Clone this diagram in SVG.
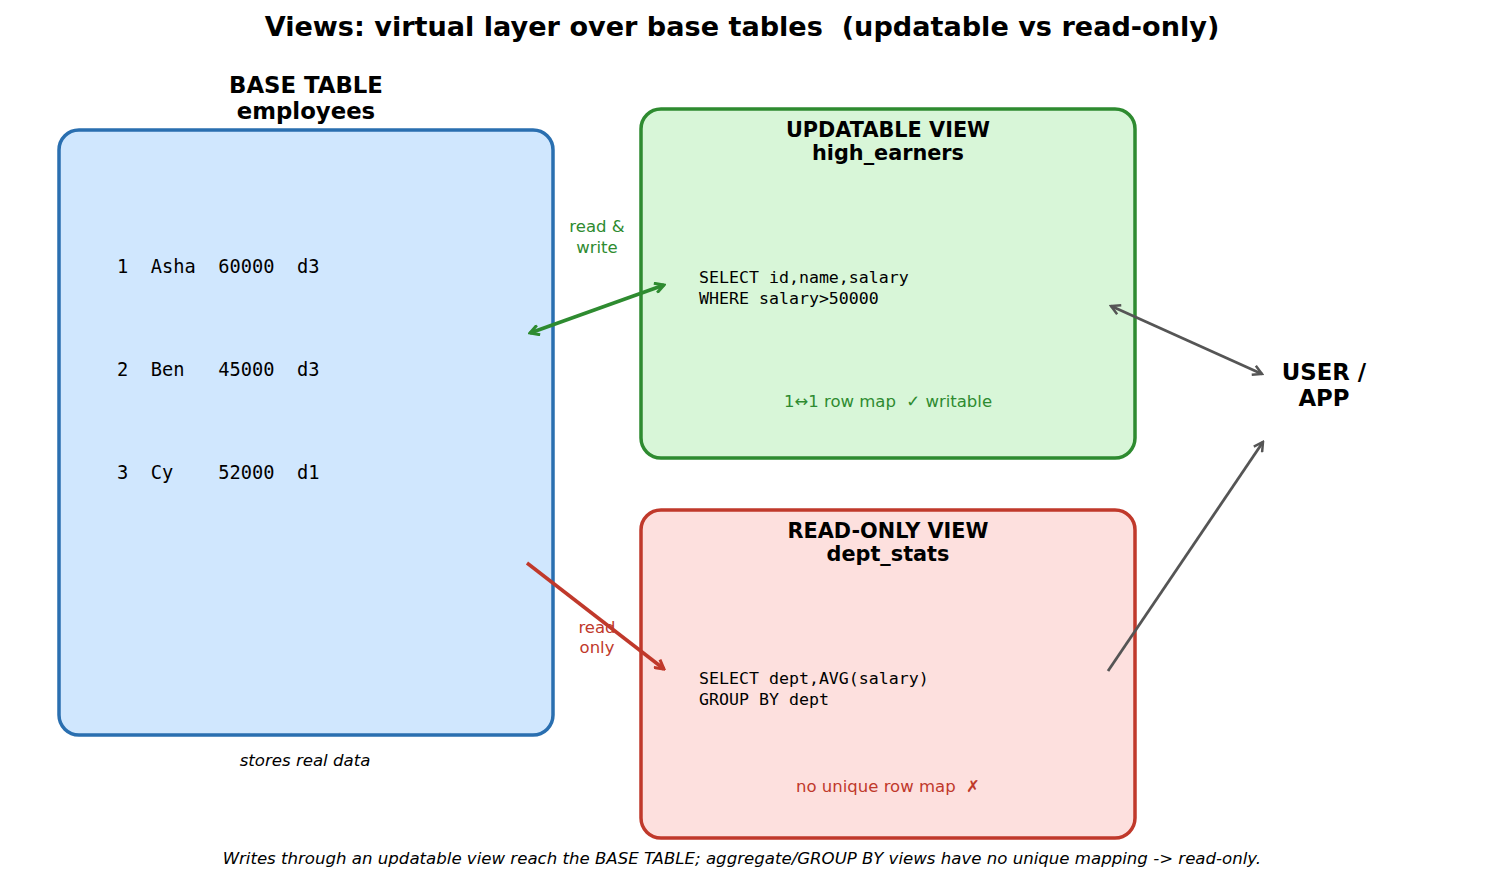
<svg xmlns="http://www.w3.org/2000/svg" width="1485" height="884" viewBox="0 0 1485 884">
<style>
text{font-family:"DejaVu Sans","Liberation Sans",sans-serif;}
.title{font-size:27.1px;font-weight:bold;text-anchor:middle;fill:#000;}
.hdr{font-size:22.8px;font-weight:bold;text-anchor:middle;fill:#000;}
.vhdr{font-size:20.8px;font-weight:bold;text-anchor:middle;fill:#000;}
.mono{font-family:"DejaVu Sans Mono","Liberation Mono",monospace;font-size:16.6px;fill:#000;}
.row{font-family:"DejaVu Sans Mono","Liberation Mono",monospace;font-size:18.7px;fill:#000;}
.note{font-size:16.5px;text-anchor:middle;}
.it{font-size:16.6px;font-style:italic;text-anchor:middle;fill:#000;}
.box{stroke-width:3.5;}
</style>
<defs>
<marker id="hg" markerWidth="12" markerHeight="12" refX="10" refY="6" orient="auto-start-reverse" markerUnits="userSpaceOnUse"><path d="M1,1 L10,6 L1,11" fill="none" stroke="#2e8b30" stroke-width="3"/></marker>
<marker id="hr" markerWidth="12" markerHeight="12" refX="10" refY="6" orient="auto-start-reverse" markerUnits="userSpaceOnUse"><path d="M1,1 L10,6 L1,11" fill="none" stroke="#c0392b" stroke-width="3"/></marker>
<marker id="hk" markerWidth="12" markerHeight="12" refX="10" refY="6" orient="auto-start-reverse" markerUnits="userSpaceOnUse"><path d="M1,1 L10,6 L1,11" fill="none" stroke="#555555" stroke-width="2.5"/></marker>
</defs>
<rect width="1485" height="884" fill="#fff"/>
<text class="title" x="742" y="36" xml:space="preserve">Views: virtual layer over base tables  (updatable vs read-only)</text>

<g id="base">
<rect class="box" x="59" y="130" width="494" height="605" rx="20" fill="#d0e7fe" stroke="#2a6fb0"/>
<text class="hdr" x="306" y="93">BASE TABLE</text>
<text class="hdr" x="306" y="119">employees</text>
<text class="row" x="117" y="273" xml:space="preserve">1  Asha  60000  d3</text>
<text class="row" x="117" y="376" xml:space="preserve">2  Ben   45000  d3</text>
<text class="row" x="117" y="479" xml:space="preserve">3  Cy    52000  d1</text>
<text class="it" x="305" y="766">stores real data</text>
</g>

<g id="updatable">
<rect class="box" x="641" y="109" width="494" height="349" rx="20" fill="#d8f6d8" stroke="#2e8b30"/>
<text class="vhdr" x="888" y="137">UPDATABLE VIEW</text>
<text class="vhdr" x="888" y="160">high_earners</text>
<text class="mono" x="699" y="283">SELECT id,name,salary</text>
<text class="mono" x="699" y="304">WHERE salary&gt;50000</text>
<text class="note" x="888" y="407" fill="#2e8b30" xml:space="preserve">1↔1 row map  ✓ writable</text>
</g>

<g id="readonly">
<rect class="box" x="641" y="510" width="494" height="328" rx="20" fill="#fde0de" stroke="#c0392b"/>
<text class="vhdr" x="888" y="538">READ-ONLY VIEW</text>
<text class="vhdr" x="888" y="561">dept_stats</text>
<text class="mono" x="699" y="684">SELECT dept,AVG(salary)</text>
<text class="mono" x="699" y="705">GROUP BY dept</text>
<text class="note" x="888" y="792" fill="#c0392b" xml:space="preserve">no unique row map  ✗</text>
</g>

<g id="user">
<text class="hdr" x="1324" y="380">USER /</text>
<text class="hdr" x="1324" y="406">APP</text>
</g>

<g id="connectors" fill="none">
<line x1="530" y1="333" x2="664" y2="285" stroke="#2e8b30" stroke-width="3.5" marker-start="url(#hg)" marker-end="url(#hg)"/>
<text class="note" x="597" y="232" fill="#2e8b30" stroke="none">read &amp;</text>
<text class="note" x="597" y="253" fill="#2e8b30" stroke="none">write</text>
<line x1="527" y1="563" x2="664" y2="669" stroke="#c0392b" stroke-width="3.5" marker-end="url(#hr)"/>
<text class="note" x="597" y="633" fill="#c0392b" stroke="none">read</text>
<text class="note" x="597" y="653" fill="#c0392b" stroke="none">only</text>
<line x1="1111" y1="306" x2="1262" y2="374" stroke="#555555" stroke-width="2.8" marker-start="url(#hk)" marker-end="url(#hk)"/>
<line x1="1108" y1="671" x2="1263" y2="442" stroke="#555555" stroke-width="2.8" marker-end="url(#hk)"/>
</g>

<text class="it" x="742" y="864">Writes through an updatable view reach the BASE TABLE; aggregate/GROUP BY views have no unique mapping -&gt; read-only.</text>
</svg>
